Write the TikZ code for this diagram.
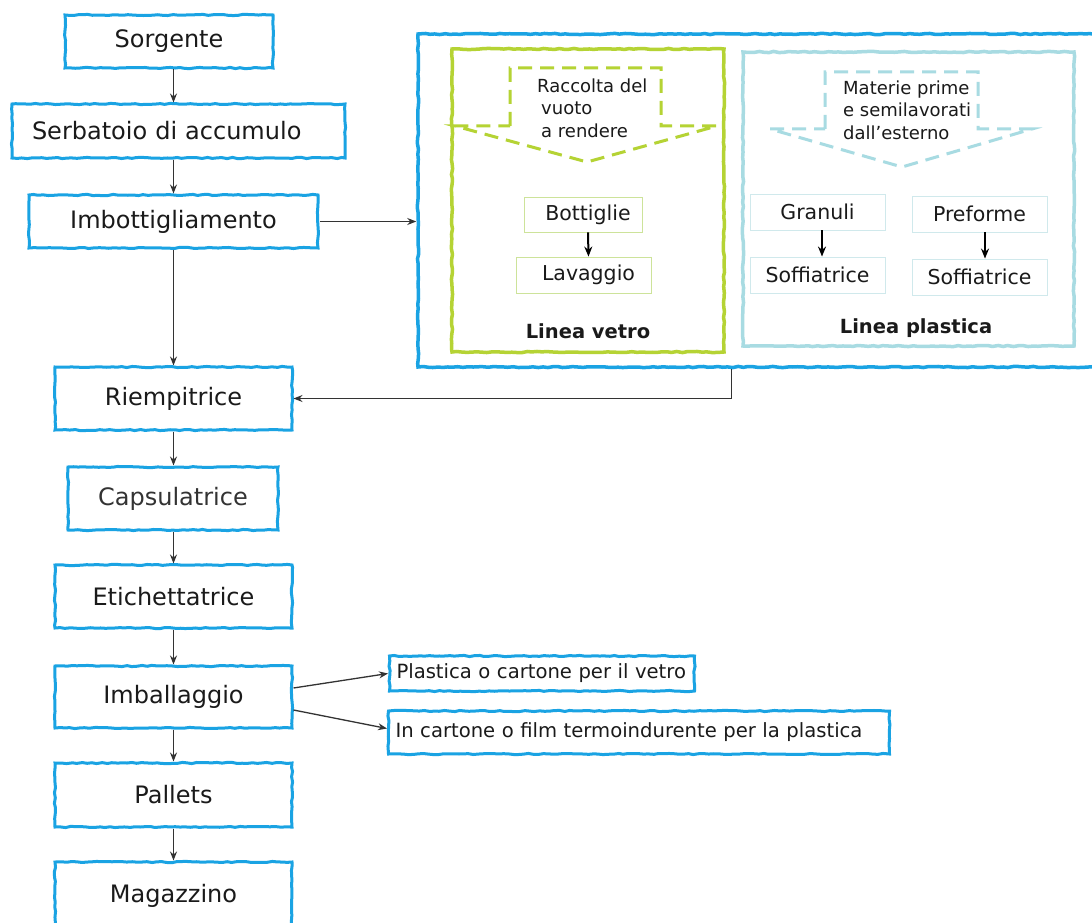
\documentclass[tikz,border=0pt]{standalone}
\usepackage{fontspec}
\setmainfont{DejaVu Sans}
\usetikzlibrary{arrows.meta,calc,decorations.pathmorphing}
\definecolor{mblue}{HTML}{1AA3E3}
\definecolor{vgreen}{HTML}{B5D334}
\definecolor{pblue}{HTML}{A8DBE2}
\definecolor{igreen}{HTML}{CDE39A}
\definecolor{iblue}{HTML}{D0E9EC}
\definecolor{txt}{HTML}{1A1A1A}
\definecolor{arrc}{HTML}{333333}
\pgfmathsetseed{7}
\begin{document}
\begin{tikzpicture}[x=1pt,y=-1pt,
  sketch/.style={decorate,decoration={random steps,segment length=5pt,amplitude=0.6pt}},
  mainbox/.style={draw=mblue,line width=3pt,fill=white,inner sep=0pt,text=txt,sketch,
    font=\fontsize{24}{28}\selectfont},
  outbox/.style={draw=mblue,line width=3pt,fill=white,inner sep=0pt,text=txt,sketch,
    font=\fontsize{19.6}{23}\selectfont,anchor=west,align=left},
  panel/.style={line width=3.5pt,fill=white,inner sep=0pt,sketch},
  innerbox/.style={line width=0.9pt,inner sep=0pt,text=txt,font=\fontsize{20.5}{24}\selectfont,
    minimum width=135,minimum height=36},
  dtext/.style={inner sep=0pt,text=txt,align=left,anchor=north west,
    font=\fontsize{18}{22.5}\selectfont},
  ptitle/.style={inner sep=0pt,text=txt,font=\fontsize{19.5}{23}\selectfont\bfseries},
  arr/.style={draw=arrc,line width=1.3pt,-{Stealth[length=9pt,width=7pt]}},
  iarr/.style={draw=black,line width=2pt,-{Stealth[length=10pt,width=8pt]}},
  gdash/.style={draw=vgreen,line width=3pt,dash pattern=on 14pt off 8pt},
  pdash/.style={draw=pblue,line width=3pt,dash pattern=on 14pt off 8pt}
]
\useasboundingbox (0,0) rectangle (1092,923);
\clip (0,0) rectangle (1092,923);
\fill[white] (0,0) rectangle (1092,923);

% main column
\node[mainbox,minimum width=208,minimum height=53] (sorg) at (169,41.5) {Sorgente};
\node[mainbox,minimum width=333,minimum height=54,text width=293,align=left,inner xsep=20pt] (serb) at (178.5,131) {Serbatoio di accumulo};
\node[mainbox,minimum width=289,minimum height=53] (imb) at (173.5,221.5) {Imbottigliamento};
\node[mainbox,minimum width=237,minimum height=63] (riemp) at (173.5,398.5) {Riempitrice};
\node[mainbox,minimum width=210,minimum height=63,text=arrc] (caps) at (173,498.5) {Capsulatrice};
\node[mainbox,minimum width=237,minimum height=63] (etich) at (173.5,596.5) {Etichettatrice};
\node[mainbox,minimum width=237,minimum height=62] (imball) at (173.5,697) {Imballaggio};
\node[mainbox,minimum width=237,minimum height=64] (pall) at (173.5,795) {Pallets};
\node[mainbox,minimum width=237,minimum height=68] (magaz) at (173.5,896) {Magazzino};

% output boxes
\node[outbox,minimum width=305,minimum height=35,text width=291,inner xsep=7pt] (out1) at (388,673.5) {Plastica o cartone per il vetro};
\node[outbox,minimum width=501,minimum height=43,text width=487,inner xsep=7pt] (out2) at (387,732.5) {In cartone o film termoindurente per la plastica};

% big panel
\node[panel,draw=mblue,minimum width=692,minimum height=333] (big) at (764,200.5) {};
\node[panel,draw=vgreen,minimum width=272,minimum height=303] (vetro) at (588,200.5) {};
\node[panel,draw=pblue,minimum width=331,minimum height=294] (plast) at (908.5,199) {};

% dashed arrows
\draw[gdash] (510,126) -- (510,68) -- (661,68) -- (661,126) -- (717,126) -- (587,162) -- (455,126) -- cycle;
\draw[pdash] (825,129) -- (825,72) -- (978,72) -- (978,129) -- (1032,129) -- (902,167) -- (770,129) -- cycle;
\node[dtext] (raccolta) at (537,78.5) {Raccolta del\\\hspace{4pt}vuoto\\\hspace{4pt}a rendere};
\node[dtext] (materie) at (843,80.5) {Materie prime\\e semilavorati\\dall’esterno};

% inner boxes
\node[innerbox,draw=igreen,minimum width=118,minimum height=35] (bott) at (583,214.5) {\hspace{10pt}Bottiglie};
\node[innerbox,draw=igreen] (lav) at (583.5,275) {\hspace{10pt}Lavaggio};
\node[innerbox,draw=iblue] (gran) at (817.5,212) {Granuli};
\node[innerbox,draw=iblue] (soff1) at (817.5,275) {Soffiatrice};
\node[innerbox,draw=iblue] (pref) at (979.5,214) {Preforme};
\node[innerbox,draw=iblue] (soff2) at (979.5,277) {Soffiatrice};
\node[ptitle] (lvetro) at (588,331) {Linea vetro};
\node[ptitle] (lplast) at (916,328) {Linea plastica};

\draw[iarr] ($(bott.south)+(5,0)$) -- ($(lav.north)+(5,0)$);
\draw[iarr] ($(gran.south)+(4.5,0)$) -- ($(soff1.north)+(4.5,0)$);
\draw[iarr] ($(pref.south)+(5.5,0)$) -- ($(soff2.north)+(5.5,0)$);

% connectors
\draw[arr] (sorg.south -| imb.north) -- (serb.north -| imb.north);
\draw[arr] (serb.south -| imb.north) -- (imb.north);
\draw[arr] (imb.east) -- (imb.east -| big.west);
\draw[arr] (imb.south) -- (riemp.north);
\draw[arr] ($(big.south west)+(315,0)$) |- (riemp.east);
\draw[arr] (riemp.south) -- (caps.north -| riemp.south);
\draw[arr] (caps.south -| riemp.south) -- (etich.north);
\draw[arr] (etich.south) -- (imball.north);
\draw[arr] (imball.south) -- (pall.north);
\draw[arr] (pall.south) -- (magaz.north);
\draw[arr] ($(imball.east)+(0,-9)$) -- (out1.west);
\draw[arr] ($(imball.east)+(0,13)$) -- ($(out2.west)+(0,-4)$);
\end{tikzpicture}
\end{document}
